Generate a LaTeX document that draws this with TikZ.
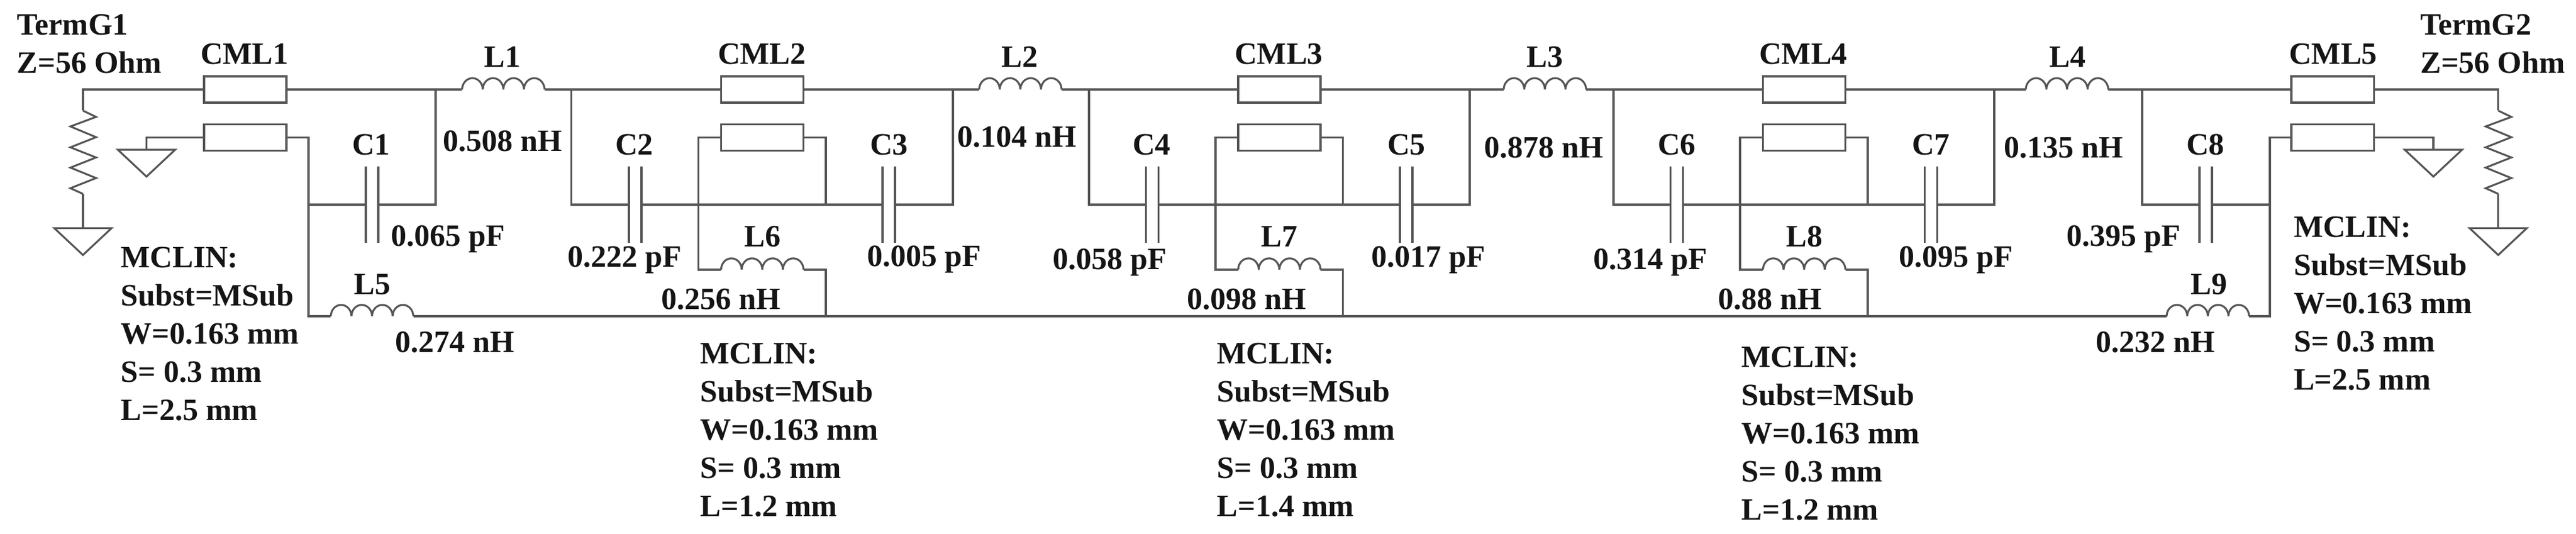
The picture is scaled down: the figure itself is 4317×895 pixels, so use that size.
\documentclass[tikz,border=0pt]{standalone}
\usepackage{fontspec}
\setmainfont{Liberation Serif}
\definecolor{wirecol}{HTML}{555555}
\definecolor{textcol}{HTML}{151515}
\newcommand{\coil}[3]{
	\node[coilbox] (#1) at (#2,#3) {};
	\draw[wire] (#1.west) arc[start angle=180,end angle=0,x radius=.1725cm,y radius=.19cm]
		arc[start angle=180,end angle=0,x radius=.1725cm,y radius=.19cm]
		arc[start angle=180,end angle=0,x radius=.1725cm,y radius=.19cm]
		arc[start angle=180,end angle=0,x radius=.1725cm,y radius=.19cm];
}
\newcommand{\capac}[2]{
	\node[capbox] (#1) at (#2,343) {};
	\draw[wire] (#1.north west) -- (#1.south west);
	\draw[wire] (#1.north east) -- (#1.south east);
}
\newcommand{\resis}[2]{
	\node[resbox] (#1) at (#2,255.25) {};
	\draw[wire] (#1.north) -- ++(22,10.5) -- ++(-43,16) -- ++(43,18) -- ++(-43,17) -- ++(43,17)
		-- ++(-43,17) -- ++(43,17.5) -- ++(-43,17) -- ++(21,9.5);
}
\newcommand{\gnd}[3]{
	\coordinate (#1) at (#2,#3);
	\draw[wire] (#1) ++(-48,0) -- ++(96,0) -- ++(-48,45) -- cycle;
}
\begin{document}
\begin{tikzpicture}[x=0.01cm, y=-0.01cm,
		wire/.style = {draw=wirecol, line width=0.9pt, line join=miter},
		linebox/.style = {draw=wirecol, line width=0.9pt, minimum width=1.38cm, minimum height=.44cm, inner sep=0pt, outer sep=0pt},
		coilbox/.style = {minimum width=1.38cm, minimum height=0pt, inner sep=0pt, outer sep=0pt},
		capbox/.style = {minimum width=.21cm, minimum height=1.27cm, inner sep=0pt, outer sep=0pt},
		resbox/.style = {minimum width=.42cm, minimum height=1.395cm, inner sep=0pt, outer sep=0pt},
		lbl/.style = {text=textcol, font=\fontsize{14.8}{18.2}\selectfont\bfseries, inner sep=0pt, anchor=base},
		info/.style = {lbl, anchor=base west, align=left}]
	\useasboundingbox (0,0) rectangle (4317,895);

	% coupled lines
	\node[linebox] (cml1) at (411,150) {};
	\node[linebox] (cml2) at (1277.5,150) {};
	\node[linebox] (cml3) at (2144,150) {};
	\node[linebox] (cml4) at (3023.5,150) {};
	\node[linebox] (cml5) at (3909,150) {};
	\node[linebox] (mcl1) at (411,230.5) {};
	\node[linebox] (mcl2) at (1277.5,230.5) {};
	\node[linebox] (mcl3) at (2144,230.5) {};
	\node[linebox] (mcl4) at (3023.5,230.5) {};
	\node[linebox] (mcl5) at (3909,230.5) {};

	% inductors
	\coil{l1}{843.5}{150}
	\coil{l2}{1710}{150}
	\coil{l3}{2589}{150}
	\coil{l4}{3464}{150}
	\coil{l5}{623.5}{530}
	\coil{l6}{1277.5}{452}
	\coil{l7}{2144}{452}
	\coil{l8}{3023.5}{452}
	\coil{l9}{3700}{530}

	% capacitors
	\capac{c1}{623.5}
	\capac{c2}{1064.5}
	\capac{c3}{1489.5}
	\capac{c4}{1931}
	\capac{c5}{2356.5}
	\capac{c6}{2810}
	\capac{c7}{3236}
	\capac{c8}{3696.5}

	% terminations
	\resis{r1}{139}
	\resis{r2}{4186.6}
	\gnd{g1}{139}{382.4}
	\gnd{g2}{245.5}{251}
	\gnd{g3}{4078}{251}
	\gnd{g4}{4186.6}{382.4}

	% corners and junctions
	\coordinate (j1) at (730,150);
	\coordinate (j2) at (957.6,150);
	\coordinate (j3) at (1597,150);
	\coordinate (j4) at (1825,150);
	\coordinate (j5) at (2463,150);
	\coordinate (j6) at (2704,150);
	\coordinate (j7) at (3342,150);
	\coordinate (j8) at (3590,150);
	\coordinate (k1) at (517,530);
	\coordinate (k2) at (3804,530);
	\coordinate (m1) at (517,343);
	\coordinate (m2) at (3804,343);
	\coordinate (a6) at (1170.7,452);
	\coordinate (a7) at (2037,452);
	\coordinate (a8) at (2916,452);
	\coordinate (b6) at (1384,343);
	\coordinate (b7) at (2250.5,343);
	\coordinate (b8) at (3130,343);
	\coordinate (d6) at (1384,530);
	\coordinate (d7) at (2250.5,530);
	\coordinate (d8) at (3130,530);

	% top rail
	\draw[wire] (g1) -- (r1.south);
	\draw[wire] (r1.north) |- (cml1.west);
	\draw[wire] (cml1.east) -- (l1.west);
	\draw[wire] (l1.east) -- (cml2.west);
	\draw[wire] (cml2.east) -- (l2.west);
	\draw[wire] (l2.east) -- (cml3.west);
	\draw[wire] (cml3.east) -- (l3.west);
	\draw[wire] (l3.east) -- (cml4.west);
	\draw[wire] (cml4.east) -- (l4.west);
	\draw[wire] (l4.east) -- (cml5.west);
	\draw[wire] (cml5.east) -| (r2.north);
	\draw[wire] (r2.south) -- (g4);

	% middle rail
	\draw[wire] (m1) -- (c1.west);
	\draw[wire] (c1.east) -| (j1);
	\draw[wire] (j2) |- (c2.west);
	\draw[wire] (c2.east) -- (c3.west);
	\draw[wire] (c3.east) -| (j3);
	\draw[wire] (j4) |- (c4.west);
	\draw[wire] (c4.east) -- (c5.west);
	\draw[wire] (c5.east) -| (j5);
	\draw[wire] (j6) |- (c6.west);
	\draw[wire] (c6.east) -- (c7.west);
	\draw[wire] (c7.east) -| (j7);
	\draw[wire] (j8) |- (c8.west);
	\draw[wire] (c8.east) -- (m2);

	% lower rail and loops
	\draw[wire] (mcl1.west) -| (g2);
	\draw[wire] (mcl1.east) -| (k1) -- (l5.west);
	\draw[wire] (l5.east) -- (l9.west);
	\draw[wire] (l9.east) -- (k2) |- (mcl5.west);
	\draw[wire] (mcl5.east) -| (g3);
	\draw[wire] (mcl2.west) -| (a6) -- (l6.west);
	\draw[wire] (mcl2.east) -| (b6);
	\draw[wire] (l6.east) -| (d6);
	\draw[wire] (mcl3.west) -| (a7) -- (l7.west);
	\draw[wire] (mcl3.east) -| (b7);
	\draw[wire] (l7.east) -| (d7);
	\draw[wire] (mcl4.west) -| (a8) -- (l8.west);
	\draw[wire] (mcl4.east) -| (b8);
	\draw[wire] (l8.east) -| (d8);

	% labels
	\node[info] (term1) at (28,122.7) {TermG1\\Z=56 Ohm};
	\node[info] (term2) at (4055.6,122.7) {TermG2\\Z=56 Ohm};
	\node[lbl] (tcml1) at (410,108) {CML1};
	\node[lbl] (tcml2) at (1277,108) {CML2};
	\node[lbl] (tcml3) at (2143,108) {CML3};
	\node[lbl] (tcml4) at (3022,108) {CML4};
	\node[lbl] (tcml5) at (3910,108) {CML5};
	\node[lbl] (tl1) at (842,113) {L1};
	\node[lbl] (tl2) at (1709,113) {L2};
	\node[lbl] (tl3) at (2589,113) {L3};
	\node[lbl] (tl4) at (3465,113) {L4};
	\node[lbl] (tl5) at (624,493.7) {L5};
	\node[lbl] (tl6) at (1278,414) {L6};
	\node[lbl] (tl7) at (2144,414) {L7};
	\node[lbl] (tl8) at (3024,414) {L8};
	\node[lbl] (tl9) at (3702,493.7) {L9};
	\node[lbl] (tc1) at (622,260) {C1};
	\node[lbl] (tc2) at (1063,260) {C2};
	\node[lbl] (tc3) at (1490,260) {C3};
	\node[lbl] (tc4) at (1930,260) {C4};
	\node[lbl] (tc5) at (2357,260) {C5};
	\node[lbl] (tc6) at (2810,260) {C6};
	\node[lbl] (tc7) at (3236,260) {C7};
	\node[lbl] (tc8) at (3696,260) {C8};
	\node[lbl] (vl1) at (842,254) {0.508 nH};
	\node[lbl] (vl2) at (1704,246.6) {0.104 nH};
	\node[lbl] (vl3) at (2587,265) {0.878 nH};
	\node[lbl] (vl4) at (3458,265) {0.135 nH};
	\node[lbl] (vl5) at (762.5,590.7) {0.274 nH};
	\node[lbl] (vl6) at (1208,519) {0.256 nH};
	\node[lbl] (vl7) at (2089.5,519) {0.098 nH};
	\node[lbl] (vl8) at (2966,519) {0.88 nH};
	\node[lbl] (vl9) at (3612,590.7) {0.232 nH};
	\node[lbl] (vc1) at (750.6,412.7) {0.065 pF};
	\node[lbl] (vc2) at (1047,448) {0.222 pF};
	\node[lbl] (vc3) at (1549,447) {0.005 pF};
	\node[lbl] (vc4) at (1860,452) {0.058 pF};
	\node[lbl] (vc5) at (2394,448) {0.017 pF};
	\node[lbl] (vc6) at (2766,452) {0.314 pF};
	\node[lbl] (vc7) at (3277.6,448) {0.095 pF};
	\node[lbl] (vc8) at (3559,412.7) {0.395 pF};
	\node[info] (mclin1) at (202,705) {MCLIN:\\Subst=MSub\\W=0.163 mm\\S= 0.3 mm\\L=2.5 mm};
	\node[info] (mclin2) at (1173,866) {MCLIN:\\Subst=MSub\\W=0.163 mm\\S= 0.3 mm\\L=1.2 mm};
	\node[info] (mclin3) at (2039,866) {MCLIN:\\Subst=MSub\\W=0.163 mm\\S= 0.3 mm\\L=1.4 mm};
	\node[info] (mclin4) at (2918,871.6) {MCLIN:\\Subst=MSub\\W=0.163 mm\\S= 0.3 mm\\L=1.2 mm};
	\node[info] (mclin5) at (3843.5,653.5) {MCLIN:\\Subst=MSub\\W=0.163 mm\\S= 0.3 mm\\L=2.5 mm};
\end{tikzpicture}
\end{document}
